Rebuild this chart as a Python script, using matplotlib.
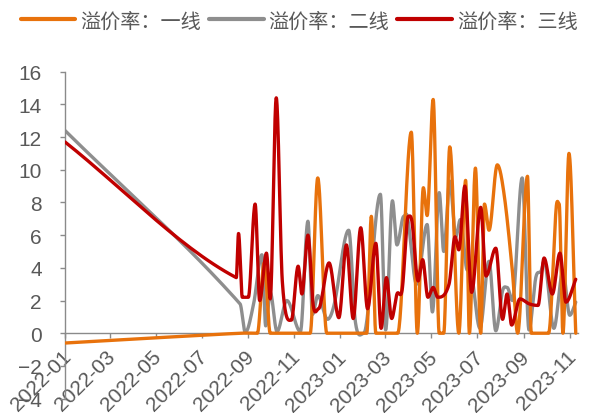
import numpy as np
import pandas as pd
import matplotlib
matplotlib.use("Agg")
import matplotlib.pyplot as plt
import matplotlib.dates as mdates
import matplotlib.transforms as mtransforms

plt.rcParams['font.family'] = ['Liberation Sans', 'DejaVu Sans']

# 溢价率：一线
tier1_dates = ["2022-01-01", "2022-08-21", "2022-09-13", "2022-09-22", "2022-09-30",
               "2022-10-13", "2022-11-09", "2022-11-22", "2022-12-02", "2022-12-14",
               "2023-01-01", "2023-01-21", "2023-02-05", "2023-02-11", "2023-02-17",
               "2023-03-03", "2023-03-18", "2023-04-05", "2023-04-13", "2023-04-21",
               "2023-04-26", "2023-05-04", "2023-05-12", "2023-05-18", "2023-05-26",
               "2023-06-07", "2023-06-16", "2023-06-21", "2023-06-29", "2023-07-06",
               "2023-07-11", "2023-07-17", "2023-07-28", "2023-08-06", "2023-08-17",
               "2023-08-24", "2023-09-06", "2023-09-11", "2023-09-24", "2023-10-04",
               "2023-10-14", "2023-10-18", "2023-10-23", "2023-10-31", "2023-11-09"]
tier1_vals = [-0.6, 0.0, 0.0, 4.3, 0.0,
              0.0, 0.0, 0.0, 9.5, 0.0,
              0.0, 0.0, 0.0, 7.15, 0.0,
              0.0, 0.0, 12.3, 0.0, 8.9,
              7.2, 14.3, 0.0, 0.0, 11.4,
              0.0, 9.35, 0.0, 10.1, 0.0,
              7.9, 6.3, 10.3, 8.5, 3.8,
              0.0, 9.6, 0.0, 0.0, 0.0,
              7.65, 7.9, 0.0, 11.0, 0.0]

# 溢价率：二线
tier2_dates = ["2022-01-01", "2022-08-21", "2022-08-28", "2022-09-08", "2022-09-19",
               "2022-09-24", "2022-09-30", "2022-10-09", "2022-10-22", "2022-11-09",
               "2022-11-19", "2022-11-25", "2022-12-02", "2022-12-15", "2022-12-24",
               "2023-01-12", "2023-01-21", "2023-02-01", "2023-02-23", "2023-03-02",
               "2023-03-11", "2023-03-17", "2023-03-26", "2023-03-31", "2023-04-12",
               "2023-04-26", "2023-05-03", "2023-05-12", "2023-05-18", "2023-05-26",
               "2023-06-03", "2023-06-09", "2023-06-17", "2023-06-23", "2023-07-05",
               "2023-07-17", "2023-07-26", "2023-08-04", "2023-08-10", "2023-08-17",
               "2023-08-30", "2023-09-08", "2023-09-17", "2023-09-24", "2023-09-28",
               "2023-10-11", "2023-10-23", "2023-11-01", "2023-11-09"]
tier2_vals = [12.4, 1.8, 0.05, 1.8, 4.8,
              0.45, 2.5, 0.1, 2.0, 0.1,
              6.85, 1.15, 2.3, 0.85, 1.8,
              6.3, 0.65, 0.0, 8.5, 0.2,
              8.1, 5.4, 7.15, 7.1, 3.0,
              6.65, 1.3, 8.6, 5.0, 9.3,
              5.9, 6.95, 4.0, 3.9, 0.3,
              4.4, 0.15, 2.6, 2.8, 2.0,
              9.5, 0.2, 3.4, 3.8, 4.4,
              0.3, 3.8, 1.1, 1.9]

# 溢价率：三线
tier3_dates = ["2022-01-01", "2022-08-16", "2022-08-19", "2022-08-24", "2022-09-01",
               "2022-09-10", "2022-09-16", "2022-09-25", "2022-09-30", "2022-10-08",
               "2022-10-16", "2022-10-28", "2022-11-06", "2022-11-11", "2022-11-19",
               "2022-11-26", "2022-12-03", "2022-12-17", "2022-12-30", "2023-01-09",
               "2023-01-18", "2023-01-28", "2023-02-06", "2023-02-17", "2023-02-24",
               "2023-03-03", "2023-03-10", "2023-03-17", "2023-03-24", "2023-04-01",
               "2023-04-06", "2023-04-14", "2023-04-20", "2023-04-27", "2023-05-04",
               "2023-05-10", "2023-05-25", "2023-06-02", "2023-06-07", "2023-06-15",
               "2023-06-24", "2023-07-06", "2023-07-13", "2023-07-26", "2023-08-04",
               "2023-08-10", "2023-08-16", "2023-08-27", "2023-09-08", "2023-09-20",
               "2023-09-28", "2023-10-09", "2023-10-19", "2023-10-27", "2023-11-09"]
tier3_vals = [11.7, 3.4, 6.1, 2.2, 2.2,
              7.9, 2.0, 4.9, 2.1, 14.4,
              3.2, 0.8, 4.1, 2.4, 6.0,
              1.7, 1.5, 4.3, 0.95, 5.4,
              0.9, 6.45, 1.5, 5.5, 0.3,
              3.4, 0.9, 2.4, 2.7, 7.15,
              6.8, 3.2, 4.5, 2.2, 2.8,
              2.2, 3.0, 5.9, 5.1, 9.0,
              2.5, 7.7, 3.5, 5.2, 0.85,
              2.4, 0.5, 2.1, 1.8, 1.7,
              4.6, 2.4, 4.9, 1.9, 3.3]

series_labels = ["溢价率：一线", "溢价率：二线", "溢价率：三线"]
series_colors = ["#E8720C", "#8E8E8E", "#C00000"]

tick_months = pd.date_range("2022-01-01", "2023-11-01", freq="2MS")
y_ticks = list(range(-4, 17, 2))


def smooth_curve(dates, vals, n=30):
    """Smoothed line through the points: cubic Hermite segments with
    cardinal tangents, flattened at local turning points between short gaps."""
    x = mdates.date2num(pd.to_datetime(dates))
    y = np.asarray(vals, dtype=float)
    h = np.diff(x)
    d = np.diff(y) / h
    m = np.empty_like(y)
    m[1:-1] = (y[2:] - y[:-2]) / (x[2:] - x[:-2])
    m[0] = d[0]
    m[-1] = d[-1]
    for i in range(1, len(y) - 1):
        turning = d[i - 1] * d[i] <= 0
        short = max(h[i - 1], h[i]) < 40
        if turning and short:
            m[i] = 0.0
    xs, ys = [], []
    t = np.linspace(0, 1, n, endpoint=False)
    h00 = 2 * t**3 - 3 * t**2 + 1
    h10 = t**3 - 2 * t**2 + t
    h01 = -2 * t**3 + 3 * t**2
    h11 = t**3 - t**2
    for i in range(len(x) - 1):
        xs.append(x[i] + t * h[i])
        ys.append(h00 * y[i] + h10 * h[i] * m[i] + h01 * y[i + 1] + h11 * h[i] * m[i + 1])
    xs.append([x[-1]])
    ys.append([y[-1]])
    return np.concatenate(xs), np.concatenate(ys)


fig = plt.figure(figsize=(5.9, 4.14), dpi=100)
ax = fig.add_axes([0.1102, 0.0348, 0.8695, 0.7896])

all_data = [(tier1_dates, tier1_vals), (tier2_dates, tier2_vals), (tier3_dates, tier3_vals)]
zorders = [3, 2, 4]
handles = []
for (dd, vv), lab, col, z in zip(all_data, series_labels, series_colors, zorders):
    xs, ys = smooth_curve(dd, vv)
    ln, = ax.plot(xs, ys, color=col, lw=2.4, label=lab, zorder=z,
                  solid_capstyle='round', solid_joinstyle='round')
    handles.append(ln)

axis_color = "#8A8A8A"
text_color = "#595959"

ax.set_ylim(-4, 16)
ax.set_yticks(y_ticks)
ax.set_xlim(pd.Timestamp("2022-01-01"), pd.Timestamp("2023-11-12"))
ax.set_xticks(tick_months)
ax.set_xticklabels([dt.strftime("%Y-%m") for dt in tick_months])

for s in ["top", "right"]:
    ax.spines[s].set_visible(False)
ax.spines["bottom"].set_position(("data", 0))
for s in ["left", "bottom"]:
    ax.spines[s].set_color(axis_color)
    ax.spines[s].set_linewidth(1.0)

ax.tick_params(axis="both", colors=axis_color, labelcolor=text_color,
               labelsize=15, direction="out", length=3.6, width=1.0)
ax.tick_params(axis="y", pad=13)
ax.tick_params(axis="x", pad=11)

shift = mtransforms.ScaledTranslation(3 / 100, 0, fig.dpi_scale_trans)
for lbl in ax.get_xticklabels():
    lbl.set_rotation(45)
    lbl.set_ha("right")
    lbl.set_va("center")
    lbl.set_rotation_mode("anchor")
    lbl.set_transform(lbl.get_transform() + shift)

leg = fig.legend(handles=handles, loc="center left", bbox_to_anchor=(0.0356, 0.947),
                 ncol=3, frameon=False, borderpad=0, borderaxespad=0,
                 handlelength=2.7, handletextpad=0.25, columnspacing=0.4,
                 prop={"family": ["Noto Sans CJK SC", "DejaVu Sans"], "size": 14.5})
for txt in leg.get_texts():
    txt.set_color(text_color)
for lh in leg.get_lines():
    lh.set_linewidth(3)

fig.savefig("out.png", dpi=100)
